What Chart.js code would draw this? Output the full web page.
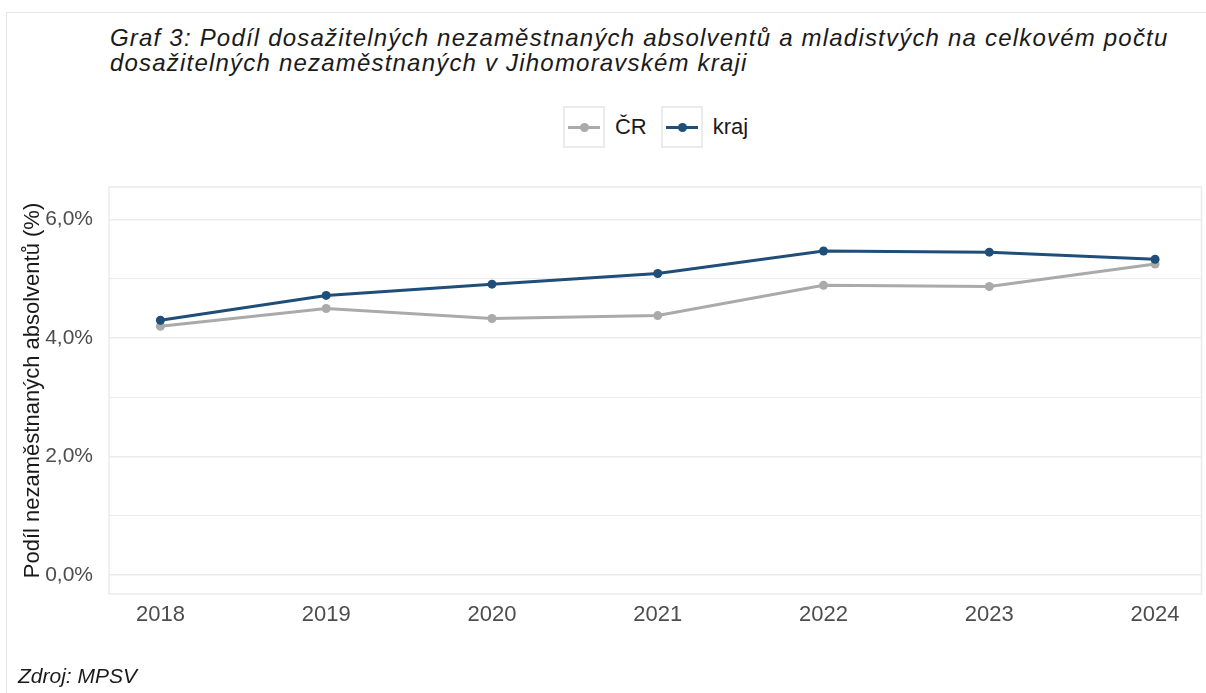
<!DOCTYPE html>
<html lang="cs">
<head>
<meta charset="utf-8">
<script src="https://cdn.jsdelivr.net/npm/chart.js@4.4.1/dist/chart.umd.min.js"></script>
<style>
  body {
    margin: 0;
    width: 1206px;
    height: 693px;
    overflow: hidden;
    position: relative;
    background: #fff;
    font-family: "Liberation Sans", Arial, sans-serif;
    color: #1a1a1a;
  }
  .frame {
    position: absolute;
    left: 6px;
    top: 12px;
    width: 1300px;
    height: 800px;
    border: 1px solid #e6e6e6;
  }
  .title {
    position: absolute;
    left: 110px;
    top: 25px;
    font-size: 24px;
    line-height: 25px;
    letter-spacing: 1.2px;
    font-style: italic;
    white-space: nowrap;
  }
  .source {
    position: absolute;
    left: 18px;
    top: 664px;
    font-size: 21px;
    font-style: italic;
  }
  .legend {
    position: absolute;
    left: 109px;
    width: 1093px;
    top: 106px;
    display: flex;
    justify-content: center;
    gap: 14px;
    font-size: 22px;
  }
  .legend-item {
    display: flex;
    align-items: center;
  }
  .legend-key {
    position: relative;
    width: 38px;
    height: 38px;
    border: 2px solid #ebebeb;
    margin-right: 10px;
  }
  .legend-key .line {
    position: absolute;
    left: 3px;
    right: 3px;
    top: 18px;
    height: 3px;
  }
  .legend-key .dot {
    position: absolute;
    left: 15px;
    top: 15px;
    width: 9px;
    height: 9px;
    border-radius: 50%;
  }
  #chartWrap {
    position: absolute;
    left: 0;
    top: 0;
    width: 1206px;
    height: 693px;
  }
</style>
</head>
<body>
<div class="frame"></div>
<div class="title">Graf 3: Podíl dosažitelných nezaměstnaných absolventů a mladistvých na celkovém počtu<br>dosažitelných nezaměstnaných v Jihomoravském kraji</div>
<div class="legend" id="legend"></div>
<div id="chartWrap"><canvas id="myChart"></canvas></div>
<div class="source">Zdroj: MPSV</div>

<script>
// data
const years = [2018, 2019, 2020, 2021, 2022, 2023, 2024];
const crValues = [4.20, 4.50, 4.33, 4.38, 4.89, 4.87, 5.25];
const krajValues = [4.30, 4.72, 4.91, 5.09, 5.47, 5.45, 5.33];
const yTicks = [0, 1, 2, 3, 4, 5, 6];
const yLabeled = [0, 2, 4, 6];

const crColor = "#aaaaaa";
const krajColor = "#1f4e79";

function toPoints(values) {
  return years.map((year, i) => ({ x: year, y: values[i] }));
}

// light frame round the plot panel
const panelBorder = {
  id: "panelBorder",
  beforeDatasetsDraw(chart) {
    const { ctx, chartArea } = chart;
    ctx.save();
    ctx.strokeStyle = "#ebebeb";
    ctx.lineWidth = 1.5;
    ctx.strokeRect(chartArea.left, chartArea.top, chartArea.width, chartArea.height);
    ctx.restore();
  },
};

const ctx = document.getElementById("myChart");

const chart = new Chart(ctx, {
  type: "line",
  data: {
    datasets: [
      {
        label: "ČR",
        data: toPoints(crValues),
        borderColor: crColor,
        backgroundColor: crColor,
        borderWidth: 3,
        pointRadius: 4.5,
        pointBorderWidth: 0,
        order: 1,
      },
      {
        label: "kraj",
        data: toPoints(krajValues),
        borderColor: krajColor,
        backgroundColor: krajColor,
        borderWidth: 3,
        pointRadius: 4.5,
        pointBorderWidth: 0,
        order: 0,
      },
    ],
  },
  options: {
    responsive: true,
    maintainAspectRatio: false,
    animation: false,
    layout: {
      padding: { left: 20, right: 4, top: 187, bottom: 0 },
    },
    plugins: {
      legend: { display: false },
      tooltip: { enabled: false },
    },
    scales: {
      x: {
        type: "linear",
        min: 2017.69,
        max: 2024.28,
        afterBuildTicks: (scale) => {
          scale.ticks = years.map((v) => ({ value: v }));
        },
        afterFit: (scale) => {
          scale.height = 99;
        },
        grid: { display: false, drawTicks: false },
        border: { display: false },
        ticks: {
          padding: 8,
          color: "#4d4d4d",
          font: { family: "Liberation Sans", size: 22 },
          callback: (value) => String(value),
        },
      },
      y: {
        min: -0.32,
        max: 6.55,
        afterBuildTicks: (scale) => {
          scale.ticks = yTicks.map((v) => ({ value: v }));
        },
        afterFit: (scale) => {
          scale.width = 89;
        },
        grid: {
          drawTicks: false,
          color: "#ebebeb",
          lineWidth: (c) => (yLabeled.includes(c.tick.value) ? 1.6 : 1),
        },
        border: { display: false },
        ticks: {
          padding: 16,
          color: "#4d4d4d",
          font: { family: "Liberation Sans", size: 21 },
          callback: (value) =>
            yLabeled.includes(value) ? value.toFixed(1).replace(".", ",") + "%" : "",
        },
        title: {
          display: true,
          text: "Podíl nezaměstnaných absolventů (%)",
          color: "#1a1a1a",
          padding: 0,
          font: { family: "Liberation Sans", size: 22 },
        },
      },
    },
  },
  plugins: [panelBorder],
});

// -------- legend --------
const legendEl = document.getElementById("legend");
chart.data.datasets.forEach((ds) => {
  const item = document.createElement("div");
  item.className = "legend-item";
  item.innerHTML =
    '<div class="legend-key"><div class="line" style="background:' + ds.borderColor +
    '"></div><div class="dot" style="background:' + ds.borderColor +
    '"></div></div><span>' + ds.label + "</span>";
  legendEl.appendChild(item);
});
</script>
</body>
</html>
